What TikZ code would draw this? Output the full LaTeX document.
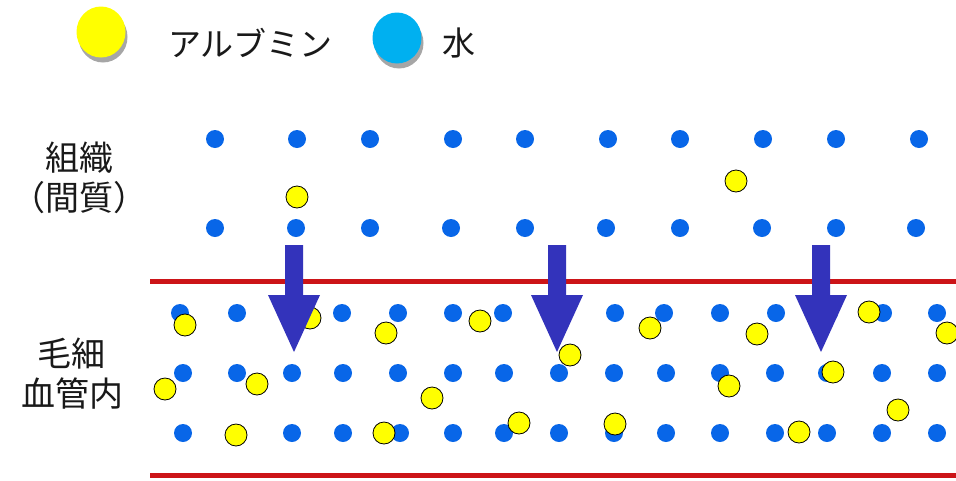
\documentclass[tikz,border=0pt]{standalone}
\usepackage{fontspec}
\setmainfont{Noto Sans CJK JP}
\usetikzlibrary{shadows}
\definecolor{water}{RGB}{8,102,232}
\definecolor{legblue}{RGB}{0,176,240}
\definecolor{alb}{RGB}{255,255,0}
\definecolor{wall}{RGB}{204,20,24}
\definecolor{flow}{RGB}{51,51,187}
\tikzset{
  waterdot/.style={circle,fill=water,minimum size=18pt,inner sep=0pt},
  albdot/.style={circle,fill=alb,draw=black,line width=0.8pt,minimum size=22pt,inner sep=0pt},
  legdot/.style={ellipse,minimum width=49pt,minimum height=51pt,inner sep=0pt,
    drop shadow={shadow xshift=2pt,shadow yshift=-5pt,opacity=0.35,fill=black}},
  lbl/.style={font=\fontsize{34}{40}\selectfont,text=black!90,align=center,inner sep=0pt},
  legtxt/.style={font=\fontsize{33}{40}\selectfont,text=black!90,anchor=west,inner sep=0pt},
  wallline/.style={draw=wall,line width=5pt},
  flowarrow/.style={fill=flow}
}
\usetikzlibrary{shapes.geometric}
\begin{document}
\begin{tikzpicture}[x=1pt,y=-1pt]
\useasboundingbox (0,0) rectangle (956,480);
% legend
\node[legdot,fill=alb] (legA) at (101,32) {};
\node[legtxt] (legAt) at (168,43) {アルブミン};
\node[legdot,fill=legblue] (legW) at (397,38) {};
\node[legtxt] (legWt) at (442,43) {水};
% side labels
\node[lbl] (tis) at (80,178) {組織\\（間質）};
\node[lbl] (cap) at (72,374) {毛細\\血管内};
% tissue water
\foreach \x [count=\i] in {215,297,370,453,525,608,680,763,836,919}
  \node[waterdot] (ta\i) at (\x,139) {};
\foreach \x [count=\i] in {215,296,370,451,525,606,680,762,836,916}
  \node[waterdot] (tb\i) at (\x,228) {};
% capillary water
\foreach \x [count=\i] in {180,237,292,342,398,453,503,558,615,664,720,776,829,883,937}
  \node[waterdot] (ca\i) at (\x,313) {};
\foreach \x [count=\i] in {183,237,292,343,398,453,504,559,614,666,720,775,827,882,937}
  \node[waterdot] (cb\i) at (\x,373) {};
\foreach \x [count=\i] in {183,236,292,343,400,453,504,559,614,666,720,775,827,882,937}
  \node[waterdot] (cc\i) at (\x,433) {};
% albumin
\node[albdot] (t1) at (297,197) {};
\node[albdot] (t2) at (736,181) {};
\foreach \x/\y [count=\i] in {185/325,310/318,386/333,480/321,570/355,650/328,757/334,869/312,947/333,
  165/389,257/384,432/398,519/423,384/433,236/435,615/424,729/386,799/432,833/372,898/410}
  \node[albdot] (a\i) at (\x,\y) {};
% vessel walls
\coordinate (wt1) at (150,281); \coordinate (wt2) at (956,281);
\coordinate (wb1) at (150,475); \coordinate (wb2) at (956,475);
\draw[wallline] (wt1) -- (wt2);
\draw[wallline] (wb1) -- (wb2);
% flow arrows
\foreach \x [count=\i] in {294,557,821}{
  \coordinate (fa\i) at (\x,245);
  \fill[flowarrow] (\x-9,245) -- (\x+9,245) -- (\x+9,295) -- (\x+26,295) -- (\x,352)
    -- (\x-26,295) -- (\x-9,295) -- cycle;
}
\end{tikzpicture}
\end{document}
